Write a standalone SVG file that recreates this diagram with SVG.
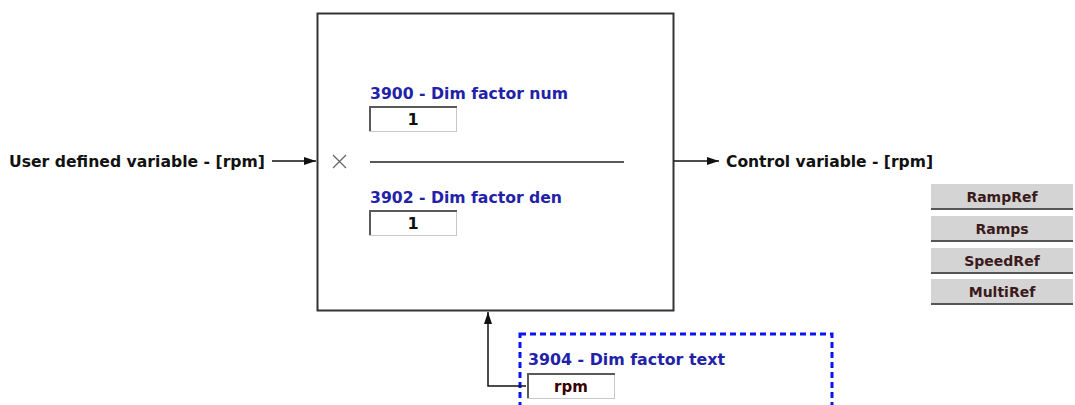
<svg xmlns="http://www.w3.org/2000/svg" width="1075" height="405" viewBox="0 0 1075 405">
<defs>
<style>
text{font-family:"DejaVu Sans",Verdana,sans-serif;font-weight:bold;font-size:15.5px}
.lbl{fill:#111}
.par{fill:#2222a8}
.val{fill:#111;text-anchor:middle;font-size:16px}
.btn text{fill:#3a1a1a;text-anchor:middle;font-size:14px}
.field{fill:#fff;stroke:#c8c8c8;stroke-width:1}
.fieldsh{fill:none;stroke:#5a5a5a;stroke-width:2}
.wire{fill:none;stroke:#111;stroke-width:1.5}
</style>
<marker id="ah" viewBox="0 0 12 10" refX="12" refY="5" markerWidth="12" markerHeight="10" markerUnits="userSpaceOnUse" orient="auto">
<path d="M0,1 L12,5 L0,9 Z" fill="#111"/>
</marker>
</defs>
<rect width="1075" height="405" fill="#fff"/>

<g id="input-label"><text class="lbl" x="9" y="167" textLength="256" lengthAdjust="spacingAndGlyphs">User defined variable - [rpm]</text></g>
<g id="output-label"><text class="lbl" x="726" y="167" textLength="207" lengthAdjust="spacingAndGlyphs">Control variable - [rpm]</text></g>

<g id="block">
<rect x="317.5" y="13.5" width="356" height="297" fill="#fff" stroke="#333" stroke-width="2"/>
<path d="M333,155 L346,168 M346,155 L333,168" stroke="#666" stroke-width="1.3"/>
<line x1="370" y1="162" x2="624" y2="162" stroke="#222" stroke-width="1.5"/>
</g>

<g id="p3900">
<text class="par" x="370" y="99" textLength="198" lengthAdjust="spacingAndGlyphs">3900 - Dim factor num</text>
<rect class="field" x="369.5" y="106.5" width="87" height="25"/>
<path class="fieldsh" d="M370,131 V107 H457"/>
<text class="val" x="413" y="125">1</text>
</g>

<g id="p3902">
<text class="par" x="370" y="203" textLength="192" lengthAdjust="spacingAndGlyphs">3902 - Dim factor den</text>
<rect class="field" x="369.5" y="210.5" width="87" height="25"/>
<path class="fieldsh" d="M370,235 V211 H457"/>
<text class="val" x="413" y="229">1</text>
</g>

<g id="p3904">
<rect x="520" y="334" width="312" height="80" fill="none" stroke="#0a14f0" stroke-width="3" stroke-dasharray="6,4"/>
<text class="par" x="528" y="365" textLength="197" lengthAdjust="spacingAndGlyphs">3904 - Dim factor text</text>
<rect class="field" x="527.5" y="373.5" width="87" height="25"/>
<path class="fieldsh" d="M528,398 V374 H615"/>
<text class="val" x="571" y="392" style="fill:#3a0000;font-size:15px">rpm</text>
</g>

<g id="buttons" class="btn">
<g id="btn-rampref"><rect x="931" y="184" width="142" height="25" fill="#d4d4d4"/><path d="M931,209 H1073" stroke="#555" stroke-width="2"/><text x="1002" y="202">RampRef</text></g>
<g id="btn-ramps"><rect x="931" y="216" width="142" height="25" fill="#d4d4d4"/><path d="M931,241 H1073" stroke="#555" stroke-width="2"/><text x="1002" y="234">Ramps</text></g>
<g id="btn-speedref"><rect x="931" y="248" width="142" height="25" fill="#d4d4d4"/><path d="M931,273 H1073" stroke="#555" stroke-width="2"/><text x="1002" y="266">SpeedRef</text></g>
<g id="btn-multiref"><rect x="931" y="279" width="142" height="25" fill="#d4d4d4"/><path d="M931,304 H1073" stroke="#555" stroke-width="2"/><text x="1002" y="297">MultiRef</text></g>
</g>

<g id="connectors">
<line class="wire" x1="272" y1="161" x2="316" y2="161" marker-end="url(#ah)"/>
<line class="wire" x1="674" y1="161" x2="719" y2="161" marker-end="url(#ah)"/>
<path class="wire" d="M526,386 H488 V312" marker-end="url(#ah)"/>
</g>
</svg>
